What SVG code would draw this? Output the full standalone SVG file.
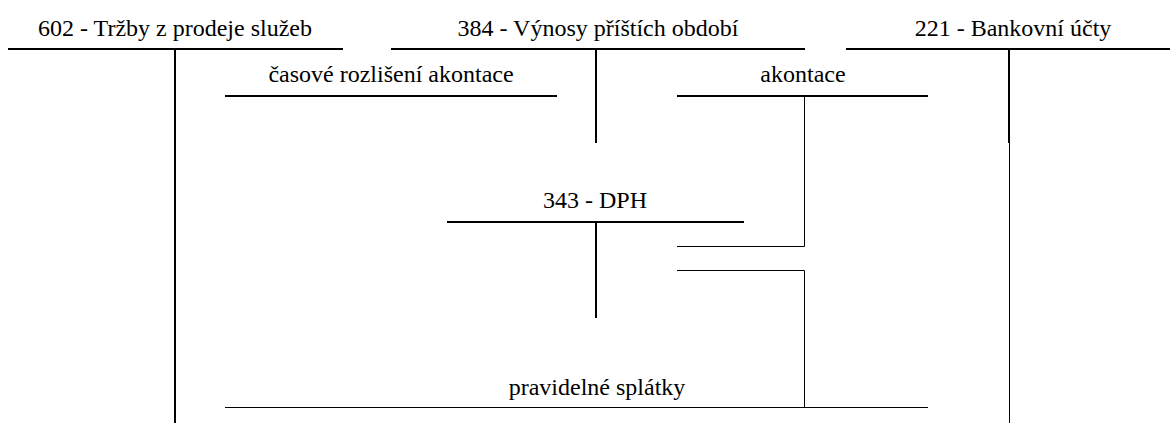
<svg xmlns="http://www.w3.org/2000/svg" width="1170" height="423" viewBox="0 0 1170 423">
  <style>
    .lbl { font-family: "Liberation Serif", "Times New Roman", serif; font-size: 24px; fill: #000; text-anchor: middle; }
    .thick { stroke: #000; stroke-width: 2; fill: none; }
    .thin { stroke: #000; stroke-width: 1; fill: none; }
  </style>
  <rect width="1170" height="423" fill="#fff"/>

  <!-- T-account 602 -->
  <g id="acc602">
    <text class="lbl" font-family="Liberation Serif" x="175" y="36">602 - Tržby z prodeje služeb</text>
    <line class="thick" x1="8" y1="49" x2="343" y2="49"/>
    <line class="thick" x1="175" y1="49" x2="175" y2="423"/>
  </g>

  <!-- T-account 384 -->
  <g id="acc384">
    <text class="lbl" font-family="Liberation Serif" x="598" y="36">384 - Výnosy příštích období</text>
    <line class="thick" x1="391" y1="49" x2="805" y2="49"/>
    <line class="thick" x1="596" y1="49" x2="596" y2="143"/>
  </g>

  <!-- T-account 221: thick stem at the top, thin below -->
  <g id="acc221">
    <text class="lbl" font-family="Liberation Serif" x="1013" y="36">221 - Bankovní účty</text>
    <line class="thick" x1="846" y1="49" x2="1170" y2="49"/>
    <line class="thick" x1="1009" y1="49" x2="1009" y2="143"/>
    <line class="thin" x1="1009.5" y1="143" x2="1009.5" y2="423"/>
  </g>

  <!-- T-account 343 -->
  <g id="acc343">
    <text class="lbl" font-family="Liberation Serif" x="595" y="208">343 - DPH</text>
    <line class="thick" x1="447" y1="222" x2="744" y2="222"/>
    <line class="thick" x1="596" y1="222" x2="596" y2="318"/>
  </g>

  <!-- Bookings between the accounts -->
  <g id="connectors">
    <g id="casove-rozliseni">
      <text class="lbl" font-family="Liberation Serif" x="391" y="82">časové rozlišení akontace</text>
      <line class="thick" x1="225" y1="96" x2="557" y2="96"/>
    </g>
    <g id="akontace">
      <text class="lbl" font-family="Liberation Serif" x="803" y="82">akontace</text>
      <line class="thick" x1="677" y1="96" x2="928" y2="96"/>
      <polyline class="thin" points="804.5,96 804.5,246.5 677,246.5"/>
    </g>
    <g id="splatky">
      <text class="lbl" font-family="Liberation Serif" x="597" y="395">pravidelné splátky</text>
      <polyline class="thin" points="677,270.5 804.5,270.5 804.5,407"/>
      <line class="thin" x1="225" y1="407.5" x2="928" y2="407.5"/>
    </g>
  </g>
</svg>
